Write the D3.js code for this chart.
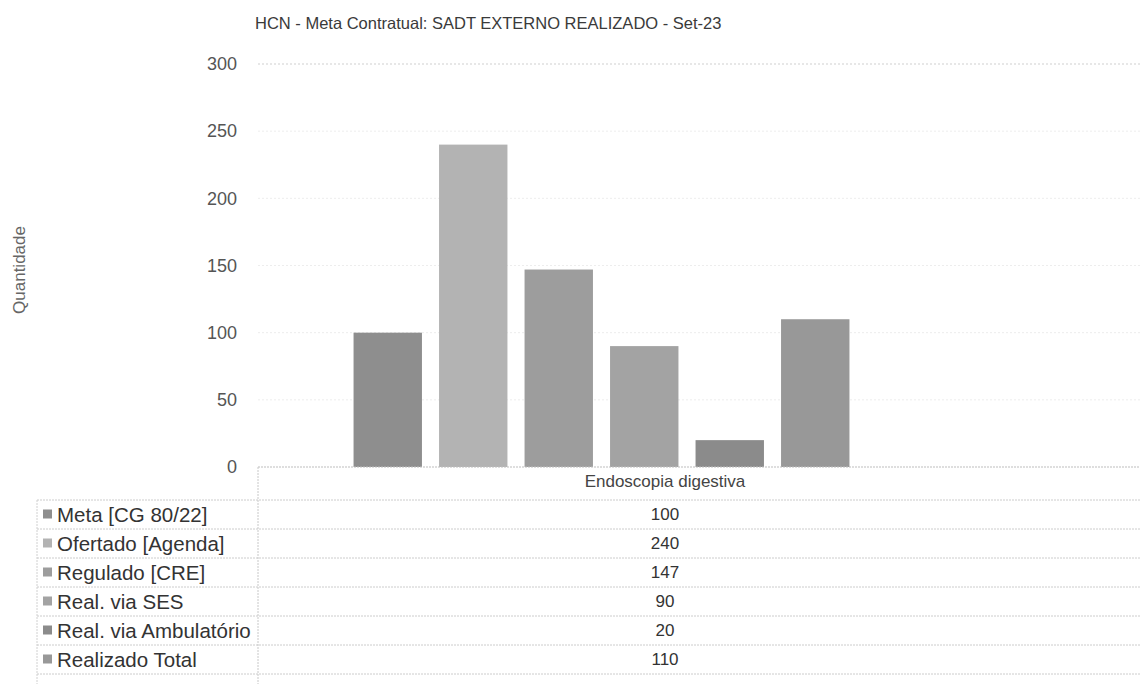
<!DOCTYPE html>
<html>
<head>
<meta charset="utf-8">
<script src="https://cdn.jsdelivr.net/npm/d3@7"></script>
<style>
  html, body { margin: 0; padding: 0; background: #fff; }
  svg { display: block; font-family: "Liberation Sans", Arial, sans-serif; }
</style>
</head>
<body>
<svg id="chart" width="1140" height="684"></svg>
<script>
const title = "HCN - Meta Contratual: SADT EXTERNO REALIZADO - Set-23";
const category = "Endoscopia digestiva";
const seriesNames = ["Meta [CG 80/22]", "Ofertado [Agenda]", "Regulado [CRE]", "Real. via SES", "Real. via Ambulatório", "Realizado Total"];
const seriesValues = [100, 240, 147, 90, 20, 110];
const seriesColors = ["#8e8e8e", "#b3b3b3", "#9d9d9d", "#a3a3a3", "#8b8b8b", "#989898"];
const yTicks = [0, 50, 100, 150, 200, 250, 300];
const yTitle = "Quantidade";

const svg = d3.select("#chart");

const y = d3.scaleLinear().domain([0, 300]).range([467, 64]);
const x = d3.scaleBand().domain(seriesNames).range([345, 858]).paddingInner(0.2).paddingOuter(0.1);

const plotLeft = 258, plotRight = 1140;

// gridlines
svg.append("g").selectAll("line").data(yTicks.filter(d => d > 0)).join("line")
  .attr("x1", plotLeft).attr("x2", plotRight)
  .attr("y1", d => y(d)).attr("y2", d => y(d))
  .attr("stroke", d => d === 300 ? "#cfcfcf" : "#ededed")
  .attr("stroke-width", 1)
  .attr("stroke-dasharray", "2,2");

// y axis labels
const yAxis = d3.axisLeft(y).tickValues(yTicks).tickSize(0).tickPadding(0);
const yg = svg.append("g").attr("transform", "translate(237,0)").call(yAxis);
yg.select(".domain").remove();
yg.selectAll("text").attr("font-size", 18).attr("fill", "#555").attr("font-family", "Liberation Sans, Arial, sans-serif");

// y title
svg.append("text")
  .attr("transform", "translate(25,270) rotate(-90)")
  .attr("text-anchor", "middle")
  .attr("font-size", 17)
  .attr("fill", "#666")
  .text(yTitle);

// bars
svg.append("g").selectAll("rect").data(seriesNames).join("rect")
  .attr("x", d => x(d))
  .attr("width", x.bandwidth())
  .attr("y", (d, i) => y(seriesValues[i]))
  .attr("height", (d, i) => y(0) - y(seriesValues[i]))
  .attr("fill", (d, i) => seriesColors[i]);

// baseline
svg.append("line")
  .attr("x1", plotLeft).attr("x2", plotRight)
  .attr("y1", y(0)).attr("y2", y(0))
  .attr("stroke", "#bdbdbd").attr("stroke-dasharray", "2,1");

// title
svg.append("text")
  .attr("x", 255).attr("y", 29)
  .attr("font-size", 16.5)
  .attr("fill", "#3a3a3a")
  .text(title);

// data table
const tableTop = y(0);
const headerH = 33;
const rowH = 29;
const tableLeft = 37;
const colCenter = 665;

const rowY = i => tableTop + headerH + i * rowH;

// horizontal lines
const hLines = d3.range(seriesNames.length + 1).map(i => rowY(i));
svg.append("g").selectAll("line").data(hLines).join("line")
  .attr("x1", tableLeft).attr("x2", plotRight)
  .attr("y1", d => d).attr("y2", d => d)
  .attr("stroke", "#cccccc").attr("stroke-dasharray", "2,1");

// vertical lines
svg.append("line")
  .attr("x1", plotLeft).attr("x2", plotLeft)
  .attr("y1", tableTop).attr("y2", 684)
  .attr("stroke", "#c8c8c8").attr("stroke-dasharray", "2,1");
svg.append("line")
  .attr("x1", tableLeft).attr("x2", tableLeft)
  .attr("y1", rowY(0)).attr("y2", 684)
  .attr("stroke", "#d0d0d0").attr("stroke-dasharray", "2,1");

// header
svg.append("text")
  .attr("x", colCenter).attr("y", tableTop + 20)
  .attr("text-anchor", "middle")
  .attr("font-size", 17)
  .attr("fill", "#444")
  .text(category);

// rows
const rows = svg.append("g").selectAll("g").data(seriesNames).join("g")
  .attr("transform", (d, i) => `translate(0,${rowY(i) + rowH / 2})`);

rows.append("rect")
  .attr("x", 43).attr("y", -5).attr("width", 9).attr("height", 9)
  .attr("fill", (d, i) => seriesColors[i]);

rows.append("text")
  .attr("x", 57).attr("y", 7)
  .attr("font-size", 20.5)
  .attr("fill", "#333")
  .text(d => d);

rows.append("text")
  .attr("x", colCenter).attr("y", 5)
  .attr("text-anchor", "middle")
  .attr("font-size", 17)
  .attr("fill", "#333")
  .text((d, i) => seriesValues[i]);
</script>
</body>
</html>
